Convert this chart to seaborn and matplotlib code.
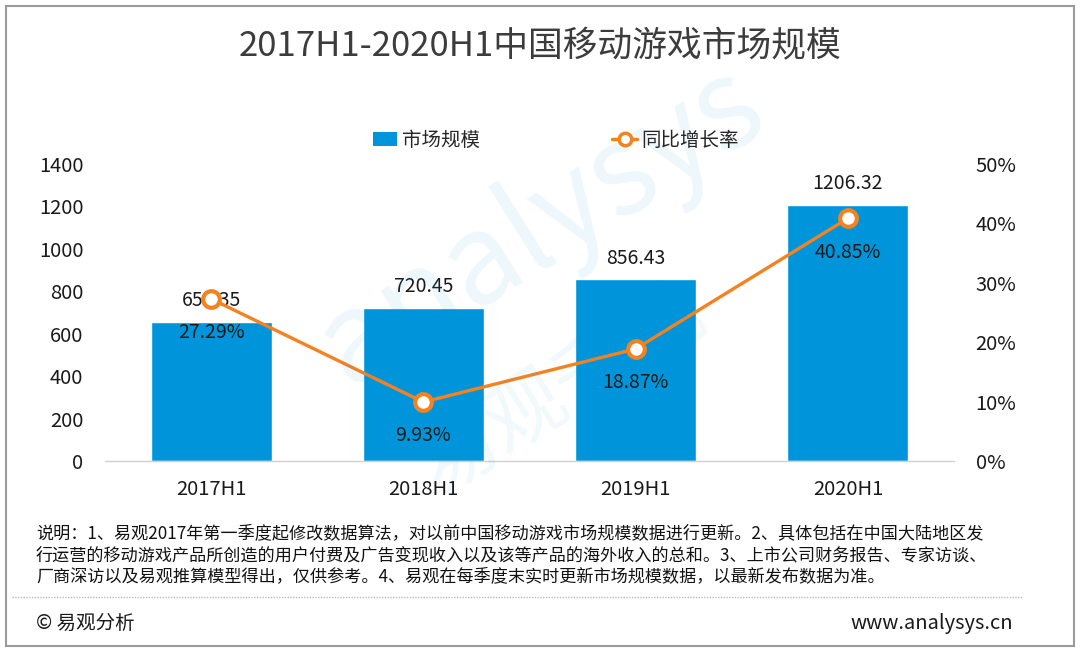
import numpy as np
import pandas as pd
import matplotlib
matplotlib.use("Agg")
import matplotlib.pyplot as plt
from matplotlib.patches import Rectangle
from matplotlib.lines import Line2D
import seaborn as sns

categories = ["2017H1", "2018H1", "2019H1", "2020H1"]
market_size = [655.35, 720.45, 856.43, 1206.32]
growth_pct = [27.29, 9.93, 18.87, 40.85]
left_ticks = [0, 200, 400, 600, 800, 1000, 1200, 1400]
right_ticks = [0, 10, 20, 30, 40, 50]

title = "2017H1-2020H1中国移动游戏市场规模"
legend_bar = "市场规模"
legend_line = "同比增长率"
note = ("说明：1、易观2017年第一季度起修改数据算法，对以前中国移动游戏市场规模数据进行更新。2、具体包括在中国大陆地区发\n"
        "行运营的移动游戏产品所创造的用户付费及广告变现收入以及该等产品的海外收入的总和。3、上市公司财务报告、专家访谈、\n"
        "厂商深访以及易观推算模型得出，仅供参考。4、易观在每季度末实时更新市场规模数据，以最新发布数据为准。")
source_left = "© 易观分析"
source_right = "www.analysys.cn"

sns.set_theme(style="white")
plt.rcParams['font.family'] = ['Noto Sans CJK SC', 'DejaVu Sans']

BLUE = "#0095DA"
ORANGE = "#F58220"
TXT = "#1a1a1a"
W, H = 1080, 651
fig = plt.figure(figsize=(W / 100, H / 100), dpi=100)
fig.patch.set_facecolor("white")

# outer frame
fig.patches.append(Rectangle((6 / W, 5 / H), 1068 / W, 640 / H, transform=fig.transFigure,
                             fill=False, edgecolor="#9a9a9a", lw=1.5))

# watermark
fig.text(540 / W, 1 - 225 / H, "analysys", fontsize=90, color=BLUE, alpha=0.07, rotation=32,
         ha="center", va="center", zorder=0)
fig.text(560 / W, 1 - 390 / H, "易观千帆", fontsize=58, color=BLUE, alpha=0.06, rotation=32,
         ha="center", va="center", zorder=0)

ax = fig.add_axes([105 / W, (H - 461) / H, (954 - 105) / W, (461 - 164) / H])
ax.patch.set_alpha(0)
df = pd.DataFrame({"cat": categories, "size": market_size, "growth": growth_pct})
sns.barplot(data=df, x="cat", y="size", color=BLUE, width=0.57, ax=ax, saturation=1)
ax.set_xlim(-0.5, 3.5)
ax.set_ylim(0, 1400)
ax.set_yticks(left_ticks)
ax.set_yticklabels([str(t) for t in left_ticks])
ax.set_xlabel("")
ax.set_ylabel("")
for s in ["top", "left", "right"]:
    ax.spines[s].set_visible(False)
ax.spines["bottom"].set_color("#d0d0d0")
ax.spines["bottom"].set_linewidth(1)
ax.tick_params(axis="y", length=0, pad=15.5, labelsize=14.5, colors=TXT)
ax.tick_params(axis="x", length=0, pad=13, labelsize=14.5, colors=TXT)
for i, v in enumerate(market_size):
    ax.text(i, v + 100, f"{v:.2f}", ha="center", va="center", fontsize=14, color=TXT, zorder=5)

ax2 = ax.twinx()
sns.lineplot(x=np.arange(len(categories)), y=growth_pct, ax=ax2, color=ORANGE, lw=2.4,
             marker="o", markersize=12, markerfacecolor="white", markeredgecolor=ORANGE,
             markeredgewidth=3, zorder=4)
ax2.set_ylim(0, 50)
ax2.set_yticks(right_ticks)
ax2.set_yticklabels([f"{t}%" for t in right_ticks])
for s in ["top", "left", "right", "bottom"]:
    ax2.spines[s].set_visible(False)
ax2.tick_params(axis="y", length=0, pad=15.5, labelsize=14.5, colors=TXT)
ax2.set_ylabel("")
for i, g in enumerate(growth_pct):
    ax2.text(i, g - 5.7, f"{g:.2f}%", ha="center", va="center", fontsize=14, color=TXT, zorder=6)

# title
fig.text(0.5, 1 - 47 / H, title, ha="center", va="center", fontsize=25, color="#3c3c3c")

# legend
handles = [Rectangle((0, 0), 1, 1, facecolor=BLUE, edgecolor="none"),
           Line2D([0], [0], color=ORANGE, lw=2.5, marker="o", markersize=9,
                  markerfacecolor="white", markeredgecolor=ORANGE, markeredgewidth=2.5)]
fig.legend(handles, [legend_bar, legend_line], loc="center", bbox_to_anchor=(556 / W, 1 - 140 / H),
           ncol=2, frameon=False, fontsize=14, columnspacing=6.8, handlelength=1.25,
           handletextpad=0.25, handleheight=0.75)

# note
fig.text(36 / W, 1 - 555 / H, note, ha="left", va="center", fontsize=12.3, color="#111111",
         linespacing=1.26)

# dotted separator
fig.add_artist(Line2D([12 / W, 1022 / W], [1 - 597 / H, 1 - 597 / H], transform=fig.transFigure,
                      color="#bbbbbb", lw=1, ls=(0, (1, 1))))

fig.text(36 / W, 1 - 623 / H, source_left, ha="left", va="center", fontsize=14, color=TXT)
fig.text(1013 / W, 1 - 623 / H, source_right, ha="right", va="center", fontsize=14.5, color=TXT)

fig.savefig("out.png", dpi=100, facecolor="white")
